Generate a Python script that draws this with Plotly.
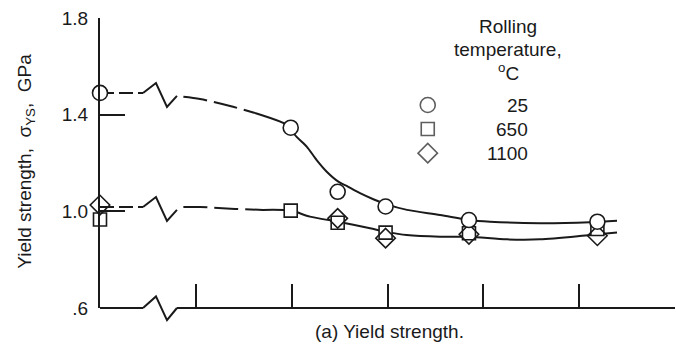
import plotly.graph_objects as go

# ---------------- data ----------------
# measured points (x in arbitrary axis units, y in GPa)
circle_x = [0, 1.99, 2.48, 2.98, 3.85, 5.19]
circle_y = [1.49, 1.346, 1.081, 1.020, 0.964, 0.957]
square_x = [0, 1.99, 2.48, 2.98, 3.85, 5.19]
square_y = [0.966, 1.003, 0.953, 0.912, 0.909, 0.927]
diamond_x = [0, 2.48, 2.98, 3.85, 5.19]
diamond_y = [1.026, 0.971, 0.889, 0.905, 0.899]

# faired curve
upper_pre_x = [0, 0.449]
upper_pre_y = [1.490, 1.490]
upper_dash_x = [0.87, 1.044, 1.357, 1.617]
upper_dash_y = [1.474, 1.465, 1.436, 1.407]
upper_solid_x = [1.617, 1.993, 2.035, 2.157, 2.261, 2.366, 2.487, 2.574, 2.713, 2.852, 2.984,
                 3.204, 3.548, 3.851, 4.070, 4.591, 5.113, 5.395]
upper_solid_y = [1.407, 1.349, 1.316, 1.268, 1.212, 1.164, 1.123, 1.105, 1.075, 1.050, 1.030,
                 1.006, 0.985, 0.964, 0.957, 0.951, 0.955, 0.961]

lower_pre_x = [0, 0.449]
lower_pre_y = [1.018, 1.018]
lower_dash_x = [0.87, 1.044, 1.409, 1.701]
lower_dash_y = [1.018, 1.018, 1.010, 1.006]
lower_solid_x = [1.701, 1.990, 2.191, 2.484, 2.818, 2.981, 3.200, 3.548, 3.851, 4.247, 4.591, 5.113, 5.395]
lower_solid_y = [1.006, 1.003, 0.978, 0.957, 0.930, 0.916, 0.902, 0.895, 0.895, 0.884, 0.884, 0.902, 0.912]

# axis-break zigzag (x positions and y offsets in GPa relative to the line)
break_x = [0.449, 0.584, 0.699, 0.803]
break_dy = [0.0, 0.041, -0.058, -0.012]

y_ticks = [0.6, 1.0, 1.4, 1.8]
y_ticklabels = [".6", "1.0", "1.4", "1.8"]
x_ticks = [1, 2, 3, 4, 5, 6]

legend_labels = ["25", "650", "1100"]
legend_symbols = ["circle-open", "square-open", "diamond-open"]

FONT = "Liberation Sans, Arial, sans-serif"
INK = "#1a1a1a"
FS = 19

fig = go.Figure()

def line(x, y, dash="solid", shape="spline"):
    fig.add_trace(go.Scatter(x=x, y=y, mode="lines",
                             line=dict(color=INK, width=2, dash=dash, shape=shape, smoothing=0.8),
                             hoverinfo="skip", showlegend=False, cliponaxis=False))

for pre_x, pre_y, dx, dy, sx, sy in [
    (upper_pre_x, upper_pre_y, upper_dash_x, upper_dash_y, upper_solid_x, upper_solid_y),
    (lower_pre_x, lower_pre_y, lower_dash_x, lower_dash_y, lower_solid_x, lower_solid_y),
]:
    line(pre_x, pre_y, dash="14px,5px", shape="linear")
    base = pre_y[-1]
    line(break_x, [base + d for d in break_dy], shape="linear")
    line(dx, dy, dash="24px,7px")
    line(sx, sy)

def markers(x, y, symbol, size, fill):
    fig.add_trace(go.Scatter(x=x, y=y, mode="markers",
                             marker=dict(symbol=symbol, size=size, color=fill, line=dict(color=INK, width=1.6)),
                             hoverinfo="skip", showlegend=False, cliponaxis=False))

markers(square_x, square_y, "square", 13, "white")
markers(diamond_x, diamond_y, "diamond-open", 15, INK)
markers(circle_x, circle_y, "circle", 15, "white")

# legend symbols on an overlay axis spanning the plot area
leg_y = [0.700, 0.617, 0.534]
fig.add_trace(go.Scatter(x=[0.570] * 3, y=leg_y, mode="markers", xaxis="x2", yaxis="y2",
                         marker=dict(symbol=legend_symbols, size=[15, 13, 15],
                                     color=INK, line=dict(color=INK, width=1.6)),
                         hoverinfo="skip", showlegend=False, cliponaxis=False))

def note(x, y, text, xanchor="center", angle=0):
    return dict(x=x, y=y, xref="paper", yref="paper", text=text, showarrow=False, textangle=angle,
                xanchor=xanchor, yanchor="middle", font=dict(size=FS, family=FONT, color=INK))

annotations = [note(0.747, yy, lab, xanchor="right") for lab, yy in zip(legend_labels, leg_y)]
annotations += [
    note(0.7096, 0.970, "Rolling"),
    note(0.7096, 0.890, "temperature,"),
    note(0.7096, 0.814, "<sup>o</sup>C"),
    note(0.504, -0.080, "(a) Yield strength."),
    note(-0.130, 0.505, "Yield strength,  σ<sub>YS</sub>,  GPa", angle=-90),
]

# x axis drawn as a path with a break (x in data units, y in paper units)
shapes = [
    dict(type="line", xref="x", yref="paper", x0=0, x1=break_x[0], y0=0, y1=0, line=dict(color=INK, width=2)),
    dict(type="path", xref="x", yref="paper",
         path=f"M {break_x[0]},0 L {break_x[1]},0.040 L {break_x[2]},-0.042 L {break_x[3]},0",
         line=dict(color=INK, width=2)),
    dict(type="line", xref="x", yref="paper", x0=break_x[3], x1=6, y0=0, y1=0, line=dict(color=INK, width=2)),
]

fig.update_layout(
    width=676, height=351,
    margin=dict(l=100, r=1, t=18, b=43),
    paper_bgcolor="white", plot_bgcolor="white",
    showlegend=False,
    font=dict(family=FONT, size=FS, color=INK),
    xaxis=dict(range=[0, 6], showgrid=False, zeroline=False, showline=False,
               tickvals=x_ticks, ticks="inside", ticklen=24, tickwidth=2, tickcolor=INK,
               showticklabels=False),
    yaxis=dict(range=[0.6, 1.8], showgrid=False, zeroline=False, showline=True, linecolor=INK, linewidth=2,
               tickvals=y_ticks, ticktext=y_ticklabels, ticks="inside", ticklen=25, tickwidth=2, tickcolor=INK,
               ticklabelstandoff=6, tickfont=dict(size=FS, family=FONT, color=INK)),
    xaxis2=dict(range=[0, 1], overlaying="x", visible=False),
    yaxis2=dict(range=[0, 1], overlaying="y", visible=False),
    annotations=annotations,
    shapes=shapes,
)

fig.write_html("out.html", config={"displayModeBar": False, "staticPlot": True},
               post_script="document.body.style.margin='0';document.body.style.overflow='hidden';")
